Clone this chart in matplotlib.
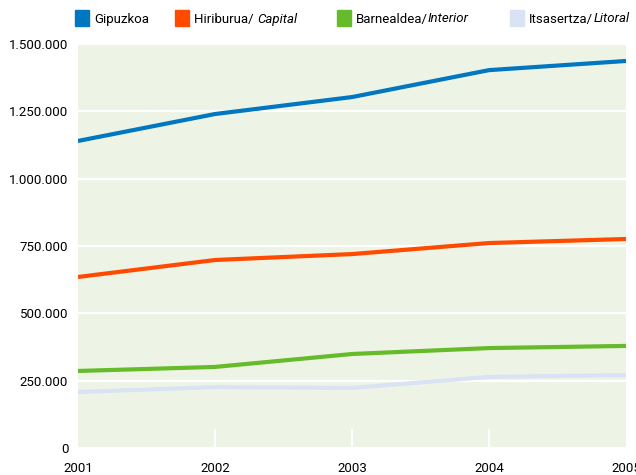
import matplotlib
matplotlib.use("Agg")
import matplotlib.pyplot as plt
from matplotlib.patches import Rectangle
from matplotlib.ticker import FuncFormatter

plt.rcParams['font.family'] = ['Roboto', 'DejaVu Sans']

years = [2001, 2002, 2003, 2004, 2005]
gipuzkoa = [1140000, 1240000, 1303000, 1403000, 1437000]
capital = [635000, 698000, 720000, 761000, 776000]
interior = [286000, 301000, 349000, 371000, 379000]
litoral = [208000, 226000, 223000, 264000, 271000]

colors = ['#0077c0', '#ff4a00', '#66bb2a', '#d9e3f3']
labels = [('Gipuzkoa', ''), ('Hiriburua/ ', 'Capital'),
          ('Barnealdea/', 'Interior'), ('Itsasertza/', 'Litoral')]

fig = plt.figure(figsize=(6.36, 4.75), dpi=100)
ax = fig.add_axes([78 / 636, 27 / 475, 548 / 636, 404 / 475])
ax.set_facecolor('#eef4e5')

for serie, c in zip([litoral, interior, capital, gipuzkoa], colors[::-1]):
    ax.plot(years, serie, color=c, linewidth=3, solid_capstyle='butt', zorder=3)

ax.set_xlim(2001, 2005)
ax.set_ylim(0, 1500000)
ax.set_yticks(range(0, 1500001, 250000))
ax.yaxis.set_major_formatter(FuncFormatter(lambda v, p: f'{int(v):,}'.replace(',', '.')))
ax.set_xticks(years)
ax.grid(axis='y', color='white', linewidth=1.5, zorder=1)
for s in ax.spines.values():
    s.set_visible(False)
ax.tick_params(axis='y', length=0, pad=7, labelsize=9.5)
ax.tick_params(axis='x', direction='in', length=14, width=1.5, color='white',
               pad=10, labelsize=9.5)
ticks = ax.xaxis.get_major_ticks()
ticks[0].tick1line.set_visible(False)
ticks[-1].tick1line.set_visible(False)
for lab in ax.get_xticklabels():
    lab.set_clip_on(False)

# leyenda manual
renderer = fig.canvas.get_renderer()
xs = [75, 175, 337, 510]
for x0, c, (normal, ital) in zip(xs, colors, labels):
    fig.patches.append(Rectangle((x0 / 636, 1 - 26 / 475), 14 / 636, 16 / 475,
                                 transform=fig.transFigure, color=c))
    t = fig.text((x0 + 19) / 636, 1 - 19 / 475, normal, fontsize=9.5, va='center')
    if ital:
        bb = t.get_window_extent(renderer)
        fig.text(bb.x1 / 636, 1 - 19 / 475, ital, fontsize=9.5, va='center', style='italic')

fig.savefig('out.png', dpi=100)
